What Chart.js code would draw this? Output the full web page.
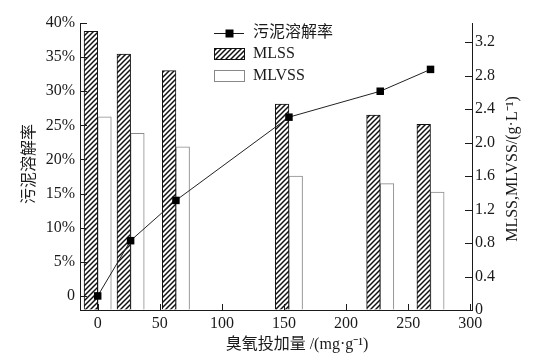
<!DOCTYPE html>
<html>
<head>
<meta charset="utf-8">
<script src="https://cdn.jsdelivr.net/npm/chart.js@4"></script>
<style>
  html, body { margin: 0; padding: 0; background: #fff; }
  #wrap { width: 536px; height: 364px; }
</style>
</head>
<body>
<div id="wrap"><canvas id="chart" width="536" height="364"></canvas></div>
<script>
// ozone dose (mg/g) for each sample
const doses = [0, 26.5, 63, 154, 227.5, 268];
// sludge dissolution rate, %
const dissolution = [0, 8.1, 14.0, 26.2, 30.0, 33.2];
// MLSS / MLVSS, g/L
const mlss = [3.33, 3.06, 2.86, 2.46, 2.33, 2.22];
const mlvss = [2.31, 2.11, 1.95, 1.60, 1.51, 1.41];

const FONT = '"Liberation Serif", "Noto Sans CJK SC", serif';
const INK = '#1a1a1a';

// hatch pattern for MLSS bars
function makeHatch() {
  const s = 5;
  const c = document.createElement('canvas');
  c.width = s; c.height = s;
  const g = c.getContext('2d');
  g.fillStyle = '#fff';
  g.fillRect(0, 0, s, s);
  g.strokeStyle = '#111';
  g.lineWidth = 1.5;
  g.beginPath();
  g.moveTo(0, s); g.lineTo(s, 0);
  g.moveTo(-1, 1); g.lineTo(1, -1);
  g.moveTo(s - 1, s + 1); g.lineTo(s + 1, s - 1);
  g.stroke();
  return g.createPattern(c, 'repeat');
}
const hatch = makeHatch();

const pts = (ys) => doses.map((x, i) => ({ x, y: ys[i] }));

// inward tick marks, axis titles and legend
const extras = {
  id: 'extras',
  afterDraw(chart) {
    const { ctx, chartArea: a, scales } = chart;
    ctx.save();
    ctx.strokeStyle = INK;
    ctx.lineWidth = 1;
    ctx.beginPath();
    scales.x.ticks.forEach(t => {
      const px = Math.round(scales.x.getPixelForValue(t.value)) + 0.5;
      ctx.moveTo(px, a.bottom); ctx.lineTo(px, a.bottom - 6);
    });
    scales.y.ticks.forEach(t => {
      const py = Math.round(scales.y.getPixelForValue(t.value)) + 0.5;
      ctx.moveTo(a.left, py); ctx.lineTo(a.left + 7, py);
    });
    scales.y1.ticks.forEach(t => {
      const py = Math.round(scales.y1.getPixelForValue(t.value)) + 0.5;
      ctx.moveTo(a.right, py); ctx.lineTo(a.right - 7, py);
    });
    ctx.stroke();

    ctx.fillStyle = INK;
    ctx.font = '16px ' + FONT;
    ctx.textBaseline = 'middle';
    ctx.textAlign = 'center';
    ctx.fillText('臭氧投加量 /(mg·g⁻¹)', 297, 345);

    ctx.save();
    ctx.translate(30, 164);
    ctx.rotate(-Math.PI / 2);
    ctx.fillText('污泥溶解率', 0, 0);
    ctx.restore();

    ctx.save();
    ctx.translate(513, 169);
    ctx.rotate(-Math.PI / 2);
    ctx.fillText('MLSS,MLVSS/(g·L⁻¹)', 0, 0);
    ctx.restore();

    // legend
    ctx.textAlign = 'left';
    ctx.beginPath();
    ctx.moveTo(214, 33.5); ctx.lineTo(244, 33.5);
    ctx.stroke();
    ctx.fillStyle = '#000';
    ctx.fillRect(225.5, 29.5, 8, 8);
    ctx.fillStyle = INK;
    ctx.fillText('污泥溶解率', 253, 33);

    ctx.fillStyle = hatch;
    ctx.fillRect(214.5, 48.5, 30, 11);
    ctx.strokeStyle = '#111';
    ctx.strokeRect(214.5, 48.5, 30, 11);
    ctx.fillStyle = INK;
    ctx.fillText('MLSS', 253, 54);

    ctx.strokeStyle = '#888';
    ctx.strokeRect(214.5, 70.5, 30, 11);
    ctx.fillText('MLVSS', 253, 76);
    ctx.restore();
  }
};

const axisBorder = { display: true, color: INK, width: 1 };
const noGrid = { display: true, drawOnChartArea: false, drawTicks: false, offset: false };
const tickFont = { family: FONT, size: 16 };

new Chart(document.getElementById('chart'), {
  type: 'bar',
  data: {
    datasets: [
      {
        type: 'line',
        label: '污泥溶解率',
        data: pts(dissolution),
        yAxisID: 'y',
        order: 0,
        borderColor: '#222',
        borderWidth: 1,
        pointStyle: 'rect',
        pointRadius: 5.3,
        pointBackgroundColor: '#000',
        pointBorderColor: '#000',
        pointBorderWidth: 0,
        tension: 0
      },
      {
        label: 'MLSS',
        data: pts(mlss),
        yAxisID: 'y1',
        order: 1,
        backgroundColor: hatch,
        borderColor: '#111',
        borderWidth: 1,
        barThickness: 13.6
      },
      {
        label: 'MLVSS',
        data: pts(mlvss),
        yAxisID: 'y1',
        order: 1,
        backgroundColor: '#fff',
        borderColor: '#8a8a8a',
        borderWidth: 1,
        barThickness: 13.6
      }
    ]
  },
  options: {
    responsive: false,
    animation: false,
    layout: { padding: { top: 23, left: 0, right: 0, bottom: 0 } },
    plugins: { legend: { display: false }, tooltip: { enabled: false } },
    scales: {
      x: {
        type: 'linear',
        offset: false,
        min: -14.25,
        max: 301.4,
        border: axisBorder,
        grid: noGrid,
        ticks: { stepSize: 50, includeBounds: false, color: INK, font: tickFont, padding: 4, maxRotation: 0 },
        afterFit(s) { s.height = 54; }
      },
      y: {
        position: 'left',
        min: -2.06,
        max: 40,
        border: axisBorder,
        grid: noGrid,
        ticks: {
          stepSize: 5, includeBounds: false, color: INK, font: tickFont, padding: 5,
          callback: v => v === 0 ? '0' : v + '%'
        },
        afterFit(s) { s.width = 80; }
      },
      y1: {
        position: 'right',
        min: 0,
        max: 3.43,
        border: axisBorder,
        grid: noGrid,
        ticks: {
          stepSize: 0.4, includeBounds: false, color: INK, font: tickFont, padding: 3,
          callback: v => v === 0 ? '0' : v.toFixed(1)
        },
        afterFit(s) { s.width = 64; }
      }
    }
  },
  plugins: [extras]
});
</script>
</body>
</html>
